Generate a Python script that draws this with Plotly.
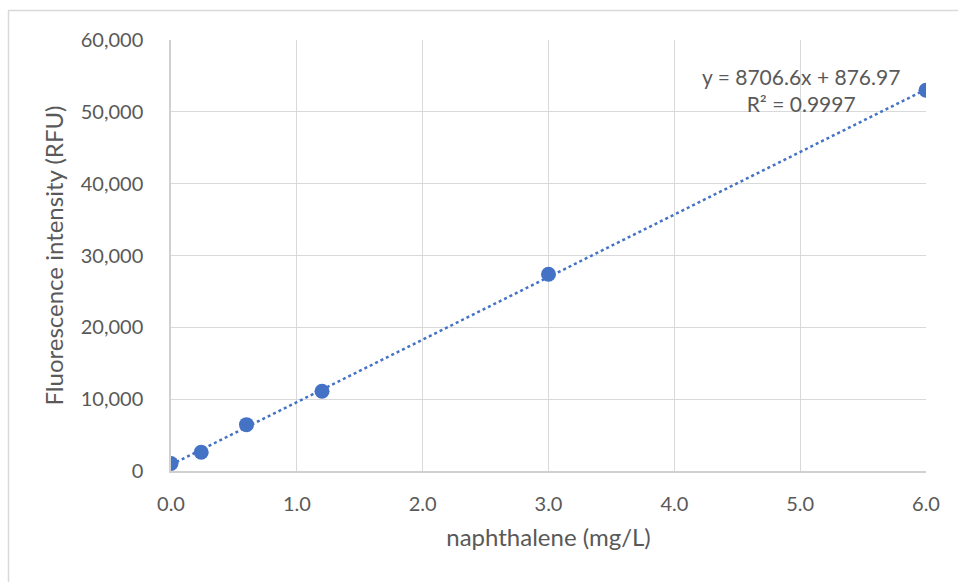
import plotly.graph_objects as go

# Data
conc = [0.0, 0.24, 0.6, 1.2, 3.0, 6.0]
rfu = [1050, 2620, 6450, 11100, 27400, 53000]

# Linear trendline (as displayed on the chart)
slope = 8706.6
intercept = 876.97
trend_x = [0.0, 6.0]
trend_y = [intercept + slope * x for x in trend_x]

x_ticks = [0, 1, 2, 3, 4, 5, 6]
y_ticks = [0, 10000, 20000, 30000, 40000, 50000, 60000]

W, H = 958, 582
L, R, T, B = 171, 32, 40, 111
pw, ph = W - L - R, H - T - B

def px(xp):
    return (xp - L) / pw

def py(yp):
    return (H - B - yp) / ph

blue = "#4472C4"
txt = "#595959"
font = "Lato, Open Sans, sans-serif"

fig = go.Figure()
fig.add_trace(go.Scatter(
    x=trend_x, y=trend_y, mode="lines",
    line=dict(color=blue, width=2.5, dash="dot"),
    showlegend=False, hoverinfo="skip"))
fig.add_trace(go.Scatter(
    x=conc, y=rfu, mode="markers",
    marker=dict(color=blue, size=15),
    showlegend=False))

fig.add_annotation(
    x=px(801), y=py(90), xref="paper", yref="paper",
    xanchor="center", yanchor="middle",
    text="y = 8706.6x + 876.97<br>R² = 0.9997",
    showarrow=False, align="center",
    font=dict(family=font, size=21, color=txt))

# Outer chart border (top and left visible)
fig.add_shape(type="line", xref="paper", yref="paper",
              x0=px(8), x1=px(960), y0=py(10.5), y1=py(10.5),
              line=dict(color="#d9d9d9", width=1.5))
fig.add_shape(type="line", xref="paper", yref="paper",
              x0=px(8.5), x1=px(8.5), y0=py(10.5), y1=py(590),
              line=dict(color="#d9d9d9", width=1.5))

fig.update_layout(
    width=W, height=H,
    margin=dict(l=L, r=R, t=T, b=B),
    paper_bgcolor="white", plot_bgcolor="white",
    font=dict(family=font, color=txt),
    xaxis=dict(
        range=[0, 6], tickvals=x_ticks,
        ticktext=[f"{v:.1f}" for v in x_ticks],
        showgrid=True, gridcolor="#d9d9d9", gridwidth=1,
        showline=True, linecolor="#d0d0d0", linewidth=1.5,
        zeroline=False, ticks="", ticklabelstandoff=14,
        tickfont=dict(size=20, color=txt),
        title=dict(text="naphthalene (mg/L)", standoff=15,
                   font=dict(size=24, color=txt))),
    yaxis=dict(
        range=[0, 60000], tickvals=y_ticks,
        ticktext=[f"{v:,}" for v in y_ticks],
        showgrid=True, gridcolor="#d9d9d9", gridwidth=1,
        showline=True, linecolor="#d0d0d0", linewidth=1.5,
        zeroline=False, ticks="", ticklabelstandoff=22,
        tickfont=dict(size=20, color=txt),
        title=dict(text="Fluorescence intensity (RFU)", standoff=10,
                   font=dict(size=24, color=txt))),
)

fig.write_html("out.html")
